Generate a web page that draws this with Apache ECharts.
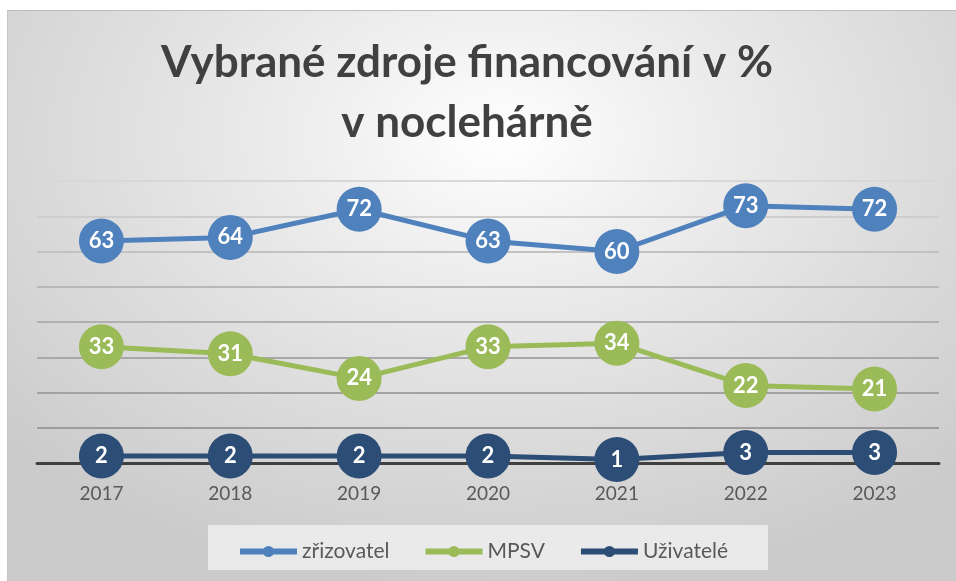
<!DOCTYPE html>
<html>
<head>
<meta charset="utf-8">
<script src="https://cdn.jsdelivr.net/npm/echarts@6/dist/echarts.min.js"></script>
<style>
html,body{margin:0;padding:0;background:#fff;width:956px;height:581px;overflow:hidden;}
#bg{position:absolute;left:7px;top:10px;width:949px;height:571px;border-top:1px solid #bdbdbd;border-left:1px solid #c4c4c4;box-sizing:border-box;
background:radial-gradient(ellipse 70% 80% at 52% 22%, #ffffff 0%, #f0f0f0 25%, #dedede 60%, #cbcbcb 100%);}
#chart{position:absolute;left:0;top:0;width:956px;height:581px;}
</style>
</head>
<body>
<div id="bg"></div>
<div id="chart"></div>
<script>
const categories = ['2017','2018','2019','2020','2021','2022','2023'];
const zrizovatel = [63, 64, 72, 63, 60, 73, 72];
const mpsv = [33, 31, 24, 33, 34, 22, 21];
const uzivatele = [2, 2, 2, 2, 1, 3, 3];
const seriesNames = ['zřizovatel', 'MPSV', 'Uživatelé'];
const titleLines = ['Vybrané zdroje financování v %', 'v noclehárně'];

const FONT = 'Lato, "Open Sans", sans-serif';
const colors = ['#4f81bd', '#9bbb59', '#2c4d75'];

function mk(name, data, color, z) {
  return {
    name: name, type: 'line', data: data, z: z,
    symbol: 'circle', symbolSize: 45,
    lineStyle: { color: color, width: 5 },
    itemStyle: { color: color },
    label: { show: true, position: 'inside', color: '#fff', fontSize: 22, fontWeight: 'bold', fontFamily: FONT },
    emphasis: { disabled: true },
    animation: false
  };
}

const titleStyle = { fontSize: 44, fontWeight: 'bold', fill: '#404040', fontFamily: FONT, align: 'center', verticalAlign: 'middle' };

const chart = echarts.init(document.getElementById('chart'), null, { renderer: 'canvas' });
chart.setOption({
  backgroundColor: 'transparent',
  animation: false,
  graphic: [
    { type: 'rect', left: 208, top: 525, shape: { width: 560, height: 45 },
      style: { fill: 'rgba(236,236,236,0.9)' }, z: -1, silent: true },
    { type: 'text', x: 467, y: 63, style: Object.assign({ text: titleLines[0] }, titleStyle), silent: true },
    { type: 'text', x: 467, y: 123, style: Object.assign({ text: titleLines[1] }, titleStyle), silent: true }
  ],
  legend: {
    data: seriesNames, left: 232, top: 536,
    itemWidth: 57, itemHeight: 14, itemGap: 33,
    lineStyle: { width: 6 },
    textStyle: { fontSize: 21, color: '#595959', fontFamily: FONT },
    selectedMode: false
  },
  grid: { left: 37, right: 17, top: 181, bottom: 118 },
  xAxis: {
    type: 'category', data: categories, boundaryGap: true,
    axisLine: { show: true, lineStyle: { color: '#404040', width: 3 } },
    axisTick: { show: false },
    axisLabel: { color: '#595959', fontSize: 19, fontFamily: FONT, margin: 21 },
    splitLine: { show: false }
  },
  yAxis: {
    type: 'value', min: 0, max: 80, interval: 10,
    axisLine: { show: false }, axisTick: { show: false }, axisLabel: { show: false },
    splitLine: { show: true, lineStyle: { width: 2, color: ['#9a9a9a','#9c9c9c','#a2a2a2','#a8a8a8','#b0b0b0','#b8b8b8','#c2c2c2','#cdcdcd','#d8d8d8'] } }
  },
  series: [
    mk(seriesNames[0], zrizovatel, colors[0], 3),
    mk(seriesNames[1], mpsv, colors[1], 4),
    mk(seriesNames[2], uzivatele, colors[2], 5)
  ]
});
</script>
</body>
</html>
